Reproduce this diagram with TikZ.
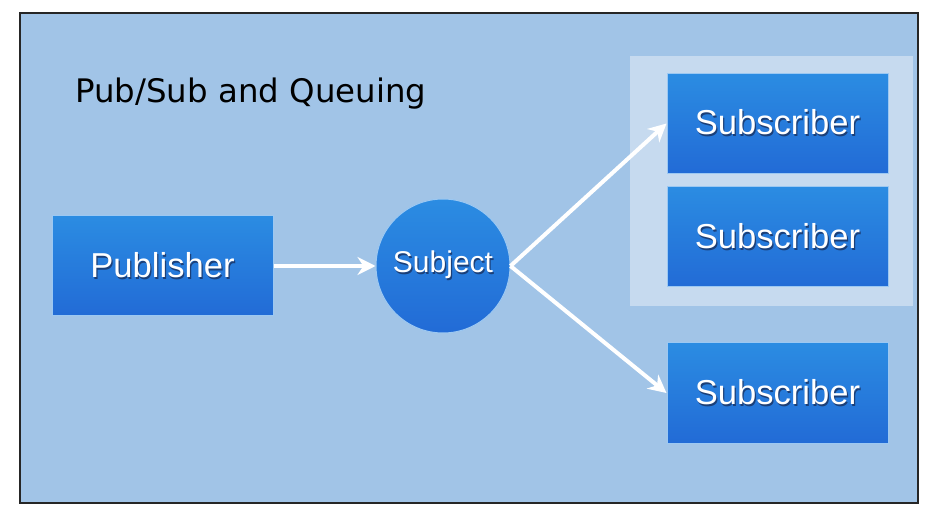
\documentclass[tikz,border=0pt]{standalone}
\usepackage{fontspec}
\usepackage{tikz}
\usetikzlibrary{arrows.meta}
\newfontfamily\titlefont{DejaVu Sans}
\newfontfamily\boxfont{Liberation Sans}
\definecolor{bgblue}{HTML}{A1C4E7}
\definecolor{groupblue}{HTML}{C6DAEF}
\definecolor{boxtop}{HTML}{2B8CE2}
\definecolor{boxbot}{HTML}{226BD6}
\definecolor{boxedge}{HTML}{9CC8F2}
\definecolor{shadowblue}{HTML}{1B3F78}
\newcommand{\shadowtxt}[1]{\makebox[0pt][l]{\hspace{0.6pt}\raisebox{-1pt}{\color{shadowblue}#1}}#1}

\begin{document}
\begin{tikzpicture}[x=0.5pt, y=-0.5pt,
    box/.style={draw=boxedge, line width=0.5pt, top color=boxtop, bottom color=boxbot,
        text=white, font=\boxfont\fontsize{17.3}{20}\selectfont,
        minimum width=110.5pt, minimum height=50pt, inner sep=0pt},
    flow/.style={white, line width=2pt, -{Stealth[length=9pt, width=9pt]}}]
            \useasboundingbox (0,0) rectangle (936,523);
            \fill[white] (0,0) rectangle (936,523);
            \draw[line width=1pt, draw=black!85, fill=bgblue] (20,13) rectangle (918,503);
            \fill[groupblue] (630,56) rectangle (913,306);
            \node[anchor=base west, inner sep=0pt, font=\titlefont\fontsize{16.2}{19}\selectfont] (title) at (75,103) {Pub/Sub and Queuing};
            \node[box] (pub) at (162.5,266) {\shadowtxt{Publisher}};
            \node[box, circle, minimum size=67pt, font=\boxfont\fontsize{15}{18}\selectfont] (subj) at (443,266) {\shadowtxt{Subject}};
            \node[box] (sub1) at (777.5,123.5) {\shadowtxt{Subscriber}};
            \node[box] (sub2) at (777.5,237) {\shadowtxt{Subscriber}};
            \node[box] (sub3) at (777.5,393) {\shadowtxt{Subscriber}};
            \draw[flow] (pub) -- (subj);
            \draw[flow] (subj.east) -- (sub1.west);
            \draw[flow] (subj.east) -- (sub3.west);
        \end{tikzpicture}
\end{document}
